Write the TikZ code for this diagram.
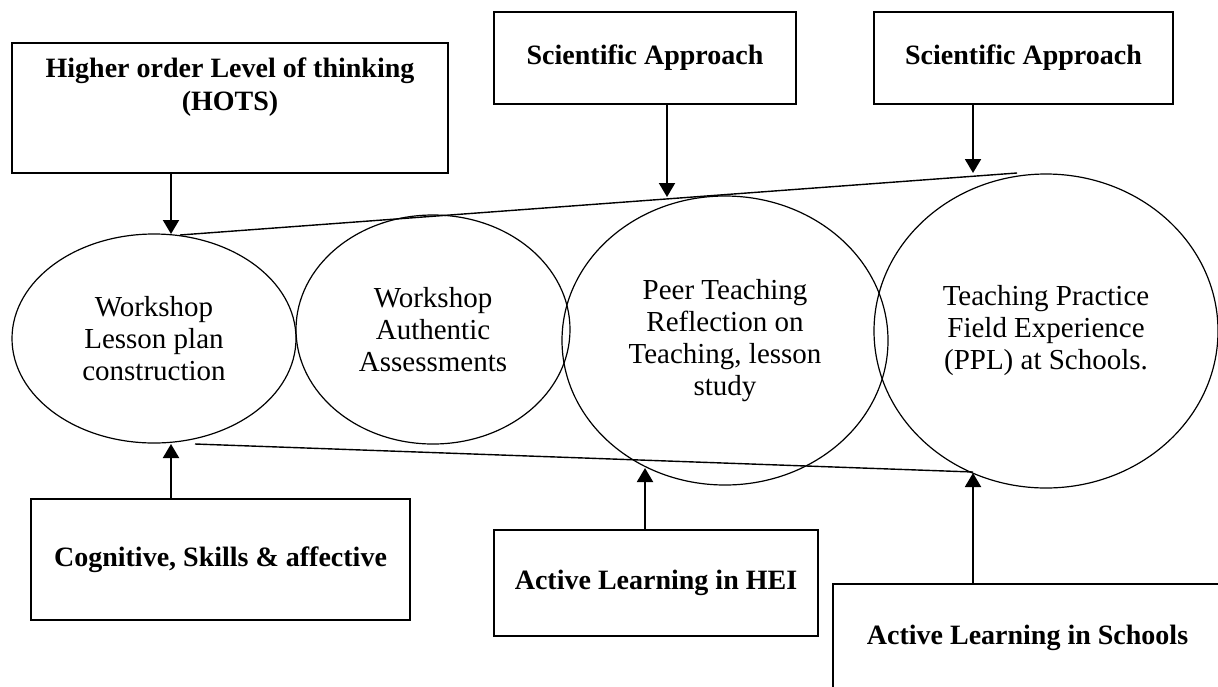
\documentclass[tikz,border=0pt]{standalone}
\usepackage{fontspec}
\setmainfont{Liberation Serif}
\usetikzlibrary{shapes.geometric,arrows.meta}
\tikzset{
  box/.style={draw, line width=0.7pt, inner sep=0pt, outer sep=0pt, align=center,
    font=\bfseries\fontsize{14}{16.5}\selectfont},
  boxtext/.style={inner sep=0pt, align=center, font=\bfseries\fontsize{14}{16.5}\selectfont},
  oval/.style={draw, ellipse, line width=0.6pt, inner sep=0pt, outer sep=0pt, align=center,
    font=\fontsize{14.5}{16}\selectfont},
  arr/.style={line width=1pt, -{Triangle[width=8pt,length=7pt]}},
  thinline/.style={line width=0.7pt}
}
\begin{document}
\begin{tikzpicture}[x=0.5pt,y=-0.5pt]
\useasboundingbox (0,0) rectangle (1218,686);
\clip (0,0) rectangle (1218,686);
% top boxes
\node[box, minimum width=218pt, minimum height=65pt] (B1) at (230,108) {};
\node[boxtext] (T1) at (230,87) {Higher order Level of thinking\\(HOTS)};
\node[box, minimum width=151pt, minimum height=46pt] (B2) at (645,58) {Scientific Approach};
\node[box, minimum width=149.5pt, minimum height=46pt] (B3) at (1023.5,58) {Scientific Approach};
% ellipses
\node[oval, minimum width=142pt, minimum height=104.5pt] (E1) at (154,338.5) {Workshop\\Lesson plan\\construction};
\node[oval, minimum width=137pt, minimum height=114.5pt] (E2) at (433,329.5) {Workshop\\Authentic\\Assessments};
\node[oval, minimum width=163pt, minimum height=144.5pt] (E3) at (725,340.5) {Peer Teaching\\Reflection on\\Teaching, lesson\\study};
\node[oval, minimum width=172pt, minimum height=157pt] (E4) at (1046,331) {Teaching Practice\\Field Experience\\(PPL) at Schools.};
% bottom boxes
\node[box, minimum width=189.5pt, minimum height=60.5pt] (B4) at (220.5,559.5) {Cognitive, Skills \& affective};
\node[box, minimum width=162pt, minimum height=53pt] (B5) at (656,583) {Active Learning in HEI};
\node[box, minimum width=194.5pt, minimum height=54pt] (B6) at (1027.5,638) {Active Learning in Schools};
% lines framing the ellipses
\coordinate (L1) at (180,235);
\coordinate (L2) at (1017,173);
\coordinate (L3) at (195,444);
\coordinate (L4) at (973,472);
\draw[thinline] (L1) -- (L2);
\draw[thinline] (L3) -- (L4);
% arrow tips
\coordinate (a1) at (171,234);
\coordinate (a2) at (667,197);
\coordinate (a3) at (973,173);
\coordinate (a4) at (171,444);
\coordinate (a5) at (645,468);
\coordinate (a6) at (973,473);
\draw[arr] (B1.south -| a1) -- (a1);
\draw[arr] (B2.south -| a2) -- (a2);
\draw[arr] (B3.south -| a3) -- (a3);
\draw[arr] (B4.north -| a4) -- (a4);
\draw[arr] (B5.north -| a5) -- (a5);
\draw[arr] (B6.north -| a6) -- (a6);
\end{tikzpicture}
\end{document}
